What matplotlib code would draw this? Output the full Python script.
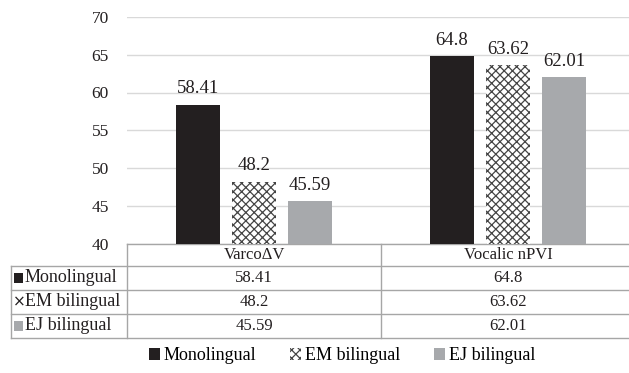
import matplotlib.pyplot as plt
import matplotlib.patches as mpatches
from matplotlib.lines import Line2D
from matplotlib.transforms import blended_transform_factory
import numpy as np

plt.rcParams['font.family'] = ['Liberation Serif', 'DejaVu Serif']
plt.rcParams['hatch.linewidth'] = 0.9

# data
measures = ['Varco\u0394V', 'Vocalic nPVI']
groups = ['Monolingual', 'EM bilingual', 'EJ bilingual']
monolingual = [58.41, 64.8]
em_bilingual = [48.2, 63.62]
ej_bilingual = [45.59, 62.01]
yticks = [40, 45, 50, 55, 60, 65, 70]

series = [monolingual, em_bilingual, ej_bilingual]
faces = ['#231f20', 'white', '#a7a9ac']
hatches = [None, 'xxxx', None]
edges = ['#231f20', '#444444', '#a7a9ac']
line_col = '#a6a6a6'

W, H = 629, 373
fig = plt.figure(figsize=(W / 100, H / 100), dpi=100)
ax = fig.add_axes([127 / W, 1 - 243.5 / H, 508 / W, 226.5 / H])

x = np.arange(len(measures))
step = 56 / 254
width = 44 / 254
for i, vals in enumerate(series):
    pos = x + (i - 1) * step
    ax.bar(pos, vals, width, bottom=0, color=faces[i], edgecolor=edges[i],
           hatch=hatches[i], linewidth=0, zorder=3)
    for xb, v in zip(pos, vals):
        ax.annotate(f'{v:g}', (xb, v), xytext=(0, 8), textcoords='offset points',
                    ha='center', va='baseline', fontsize=13.5, color='#231f20')

ax.set_xlim(-0.5, 1.5)
ax.set_ylim(40, 70)
ax.set_yticks(yticks)
ax.set_xticks([])
ax.tick_params(axis='y', length=0, pad=13, labelsize=12.5, labelcolor='#231f20')
ax.grid(axis='y', color='#d9d9d9', linewidth=1, zorder=0)
for s in ['top', 'right', 'left']:
    ax.spines[s].set_visible(False)
ax.spines['bottom'].set_color(line_col)
ax.spines['bottom'].set_linewidth(1)

# data table under the axis: x in data units, y in figure pixels
tr = blended_transform_factory(ax.transData, fig.transFigure)
def fy(p):
    return 1 - p / H

rows = [244, 266, 290, 314, 338]
x_left = -0.5 - 116 / 254
x_right = 1.5
for r in rows[1:]:
    ax.add_line(Line2D([x_left, x_right], [fy(r), fy(r)], transform=tr,
                       color=line_col, lw=1, clip_on=False))
ax.add_line(Line2D([x_left, x_left], [fy(266), fy(338)], transform=tr,
                   color=line_col, lw=1, clip_on=False))
for xv in [-0.5, 0.5]:
    ax.add_line(Line2D([xv, xv], [fy(244), fy(338)], transform=tr,
                       color=line_col, lw=1, clip_on=False))

for j, m in enumerate(measures):
    ax.text(j, fy(255), m, transform=tr, ha='center', va='center',
            fontsize=12, color='#231f20')

# row labels with their series key in front
for i, g in enumerate(groups):
    yc = fy((rows[i + 1] + rows[i + 2]) / 2)
    if i == 1:
        ax.text(x_left + 2 / 254, yc, '\u00d7', transform=tr, ha='left', va='center',
                fontsize=11, color='#231f20', family='DejaVu Sans')
    else:
        ax.add_patch(mpatches.Rectangle((x_left + 3 / 254, yc - 5 / H), 9 / 254, 10 / H,
                                        transform=tr, facecolor=faces[i], edgecolor='none',
                                        clip_on=False))
    ax.text(x_left + 14 / 254, yc, g, transform=tr, ha='left', va='center',
            fontsize=13, color='#231f20')
    for j in range(len(measures)):
        ax.text(j, yc, f'{series[i][j]:g}', transform=tr, ha='center', va='center',
                fontsize=12, color='#231f20')

handles = [mpatches.Patch(facecolor=faces[i], edgecolor=edges[i], hatch=hatches[i],
                          linewidth=0) for i in range(3)]
fig.legend(handles, groups, loc='center', bbox_to_anchor=(342 / W, 1 - 356 / H),
           ncol=3, frameon=False, prop={'family': 'Liberation Serif', 'size': 13},
           handlelength=0.6, handleheight=0.65, handletextpad=0.2, columnspacing=1.9)

fig.savefig('out.png', dpi=100)
